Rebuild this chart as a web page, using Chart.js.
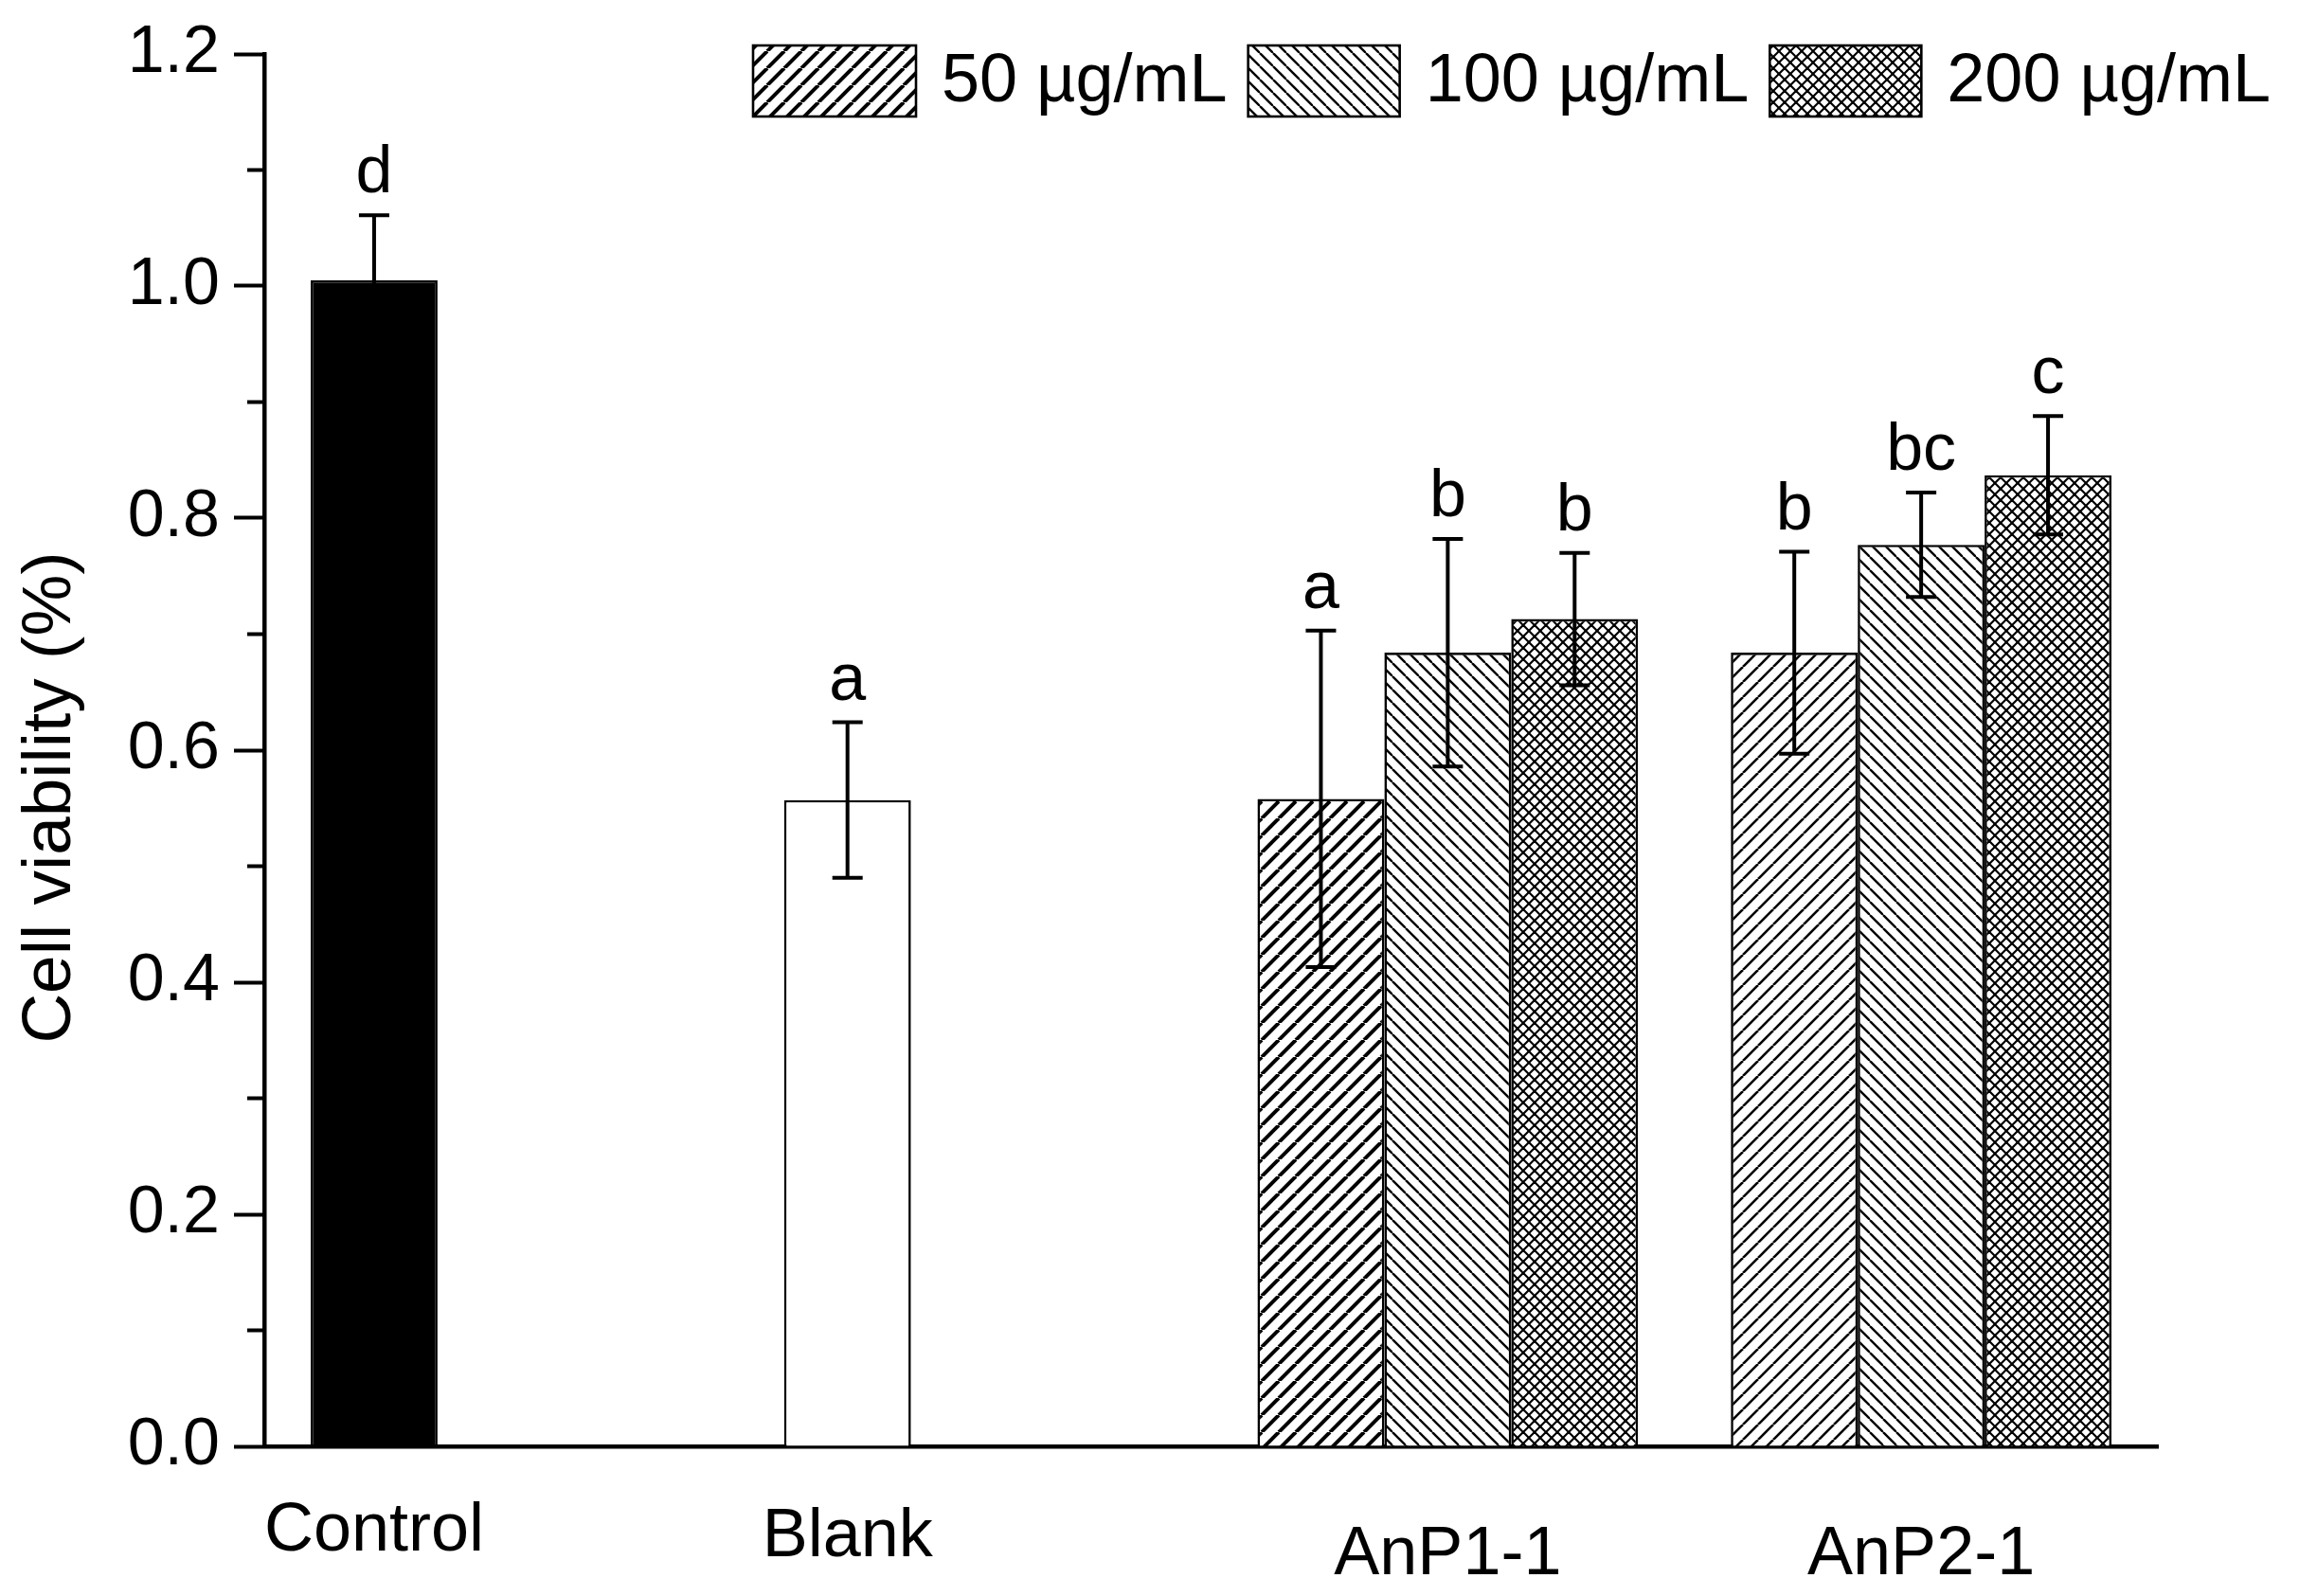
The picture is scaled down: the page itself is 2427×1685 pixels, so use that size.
<!DOCTYPE html>
<html lang="en">
<head>
<meta charset="UTF-8">
<title>Cell viability</title>
<script src="https://cdn.jsdelivr.net/npm/chart.js@4"></script>
<style>
  html, body { margin: 0; padding: 0; background: #fff; }
  .wrap { width: 2427px; height: 1685px; }
</style>
</head>
<body>
<div class="wrap"><canvas id="chart" width="2427" height="1685"></canvas></div>
<script>
// categories and series
const groups = ['Control', 'Blank', 'AnP1-1', 'AnP2-1'];
const doses = ['50 µg/mL', '100 µg/mL', '200 µg/mL'];
const yTicks = [0, 0.2, 0.4, 0.6, 0.8, 1.0, 1.2];
const yTitle = 'Cell viability (%)';

// means (Control and Blank only use the first slot of their group)
const dose50 = [1.005, 0.557, 0.558, 0.684];
const dose100 = [null, null, 0.684, 0.777];
const dose200 = [null, null, 0.713, 0.837];

// standard deviations
const err50 = [0.056, 0.067, 0.145, 0.087];
const err100 = [null, null, 0.098, 0.045];
const err200 = [null, null, 0.057, 0.051];

// significance letters
const sig50 = ['d', 'a', 'a', 'b'];
const sig100 = [null, null, 'b', 'bc'];
const sig200 = [null, null, 'b', 'c'];

const FONT = "'Liberation Sans', Arial, sans-serif";
Chart.defaults.font.family = FONT;
Chart.defaults.color = '#000';

// hatch fills
function hatch(size, width, dir) {
  const c = document.createElement('canvas');
  c.width = c.height = size;
  const g = c.getContext('2d');
  g.fillStyle = '#fff';
  g.fillRect(0, 0, size, size);
  g.strokeStyle = '#000';
  g.lineWidth = width;
  for (let k = -1; k <= 1; k++) {
    if (dir === '/' || dir === 'x') {
      g.beginPath(); g.moveTo(k * size, size); g.lineTo(k * size + size, 0); g.stroke();
    }
    if (dir === '\\' || dir === 'x') {
      g.beginPath(); g.moveTo(k * size, 0); g.lineTo(k * size + size, size); g.stroke();
    }
  }
  return g.createPattern(c, 'repeat');
}

const fwdThick = hatch(18, 4, '/');
const fwdThin = hatch(16, 2.6, '/');
const back = hatch(14, 2.4, '\\');
const cross = hatch(12, 2.2, 'x');

// error bars + letters
const errorBars = {
  id: 'errorBars',
  afterDatasetsDraw(chart) {
    const ctx = chart.ctx, y = chart.scales.y;
    ctx.save();
    ctx.strokeStyle = '#000';
    ctx.fillStyle = '#000';
    ctx.lineWidth = 4;
    ctx.font = '70px ' + FONT;
    ctx.textAlign = 'center';
    ctx.textBaseline = 'alphabetic';
    chart.data.datasets.forEach((ds, i) => {
      chart.getDatasetMeta(i).data.forEach((bar, j) => {
        const v = ds.data[j];
        if (v == null) return;
        const e = ds.errors[j];
        const top = y.getPixelForValue(v + e);
        const bot = y.getPixelForValue(v - e);
        ctx.beginPath();
        ctx.moveTo(bar.x, top); ctx.lineTo(bar.x, bot);
        ctx.moveTo(bar.x - 16, top); ctx.lineTo(bar.x + 16, top);
        ctx.moveTo(bar.x - 16, bot); ctx.lineTo(bar.x + 16, bot);
        ctx.stroke();
        if (ds.letters[j]) ctx.fillText(ds.letters[j], bar.x, top - 24);
      });
    });
    ctx.restore();
  }
};

// minor y ticks, axis title, category labels and the hatch legend
const decor = {
  id: 'decor',
  afterDraw(chart) {
    const ctx = chart.ctx, y = chart.scales.y, x = chart.scales.x;
    const area = chart.chartArea;
    ctx.save();
    ctx.strokeStyle = '#000';
    ctx.fillStyle = '#000';

    ctx.lineWidth = 4;
    for (let i = 0; i < yTicks.length - 1; i++) {
      const py = y.getPixelForValue((yTicks[i] + yTicks[i + 1]) / 2);
      ctx.beginPath(); ctx.moveTo(area.left - 18, py); ctx.lineTo(area.left, py); ctx.stroke();
    }

    // y title sits a little below the middle of the axis
    ctx.save();
    ctx.translate(y.left + 54, (area.top + area.bottom) / 2 + 50);
    ctx.rotate(-Math.PI / 2);
    ctx.font = '73px ' + FONT;
    ctx.textAlign = 'center';
    ctx.textBaseline = 'middle';
    ctx.fillText(yTitle, 0, 0);
    ctx.restore();

    ctx.font = '72px ' + FONT;
    ctx.textAlign = 'center';
    ctx.textBaseline = 'alphabetic';
    const drop = [110, 116, 135, 135];
    const first = chart.getDatasetMeta(0).data;
    groups.forEach((g, j) => {
      const px = j < 2 ? first[j].x : x.getPixelForValue(j);
      ctx.fillText(g, px, area.bottom + drop[j]);
    });

    const fills = [fwdThick, back, cross];
    let lx = area.left + 516;
    ctx.textAlign = 'left';
    ctx.font = '72px ' + FONT;
    ctx.lineWidth = 2.6;
    doses.forEach((d, k) => {
      const bw = k === 0 ? 172 : 160;
      ctx.fillStyle = fills[k];
      ctx.fillRect(lx, 48, bw, 75);
      ctx.strokeRect(lx, 48, bw, 75);
      lx += bw + 27;
      ctx.fillStyle = '#000';
      ctx.fillText(d, lx, 107);
      lx += ctx.measureText(d).width + 22;
    });
    ctx.restore();
  }
};

new Chart(document.getElementById('chart'), {
  type: 'bar',
  data: {
    labels: groups,
    datasets: [
      { label: doses[0], data: dose50, errors: err50, letters: sig50,
        backgroundColor: ['#000', '#fff', fwdThick, fwdThin] },
      { label: doses[1], data: dose100, errors: err100, letters: sig100,
        backgroundColor: back },
      { label: doses[2], data: dose200, errors: err200, letters: sig200,
        backgroundColor: cross }
    ]
  },
  options: {
    responsive: false,
    devicePixelRatio: 1,
    animation: false,
    datasets: {
      bar: {
        borderColor: '#000',
        borderWidth: 2.6,
        barPercentage: 1,
        categoryPercentage: 0.804
      }
    },
    layout: { padding: { left: 0, top: 56, right: 149, bottom: 0 } },
    plugins: { legend: { display: false }, tooltip: { enabled: false } },
    scales: {
      x: {
        offset: true,
        grid: { display: false },
        border: { display: true, color: '#000', width: 4.5 },
        ticks: { display: false },
        afterFit(s) { s.height = 158; }
      },
      y: {
        min: 0,
        max: 1.2,
        afterBuildTicks(s) { s.ticks = yTicks.map(v => ({ value: v })); },
        ticks: {
          callback: v => v.toFixed(1),
          font: { size: 70 },
          color: '#000',
          padding: 15
        },
        grid: { drawOnChartArea: false, tickLength: 32, tickWidth: 4, tickColor: '#000' },
        border: { color: '#000', width: 4.5 },
        afterFit(s) { s.width = 279; }
      }
    }
  },
  plugins: [errorBars, decor]
});
</script>
</body>
</html>
